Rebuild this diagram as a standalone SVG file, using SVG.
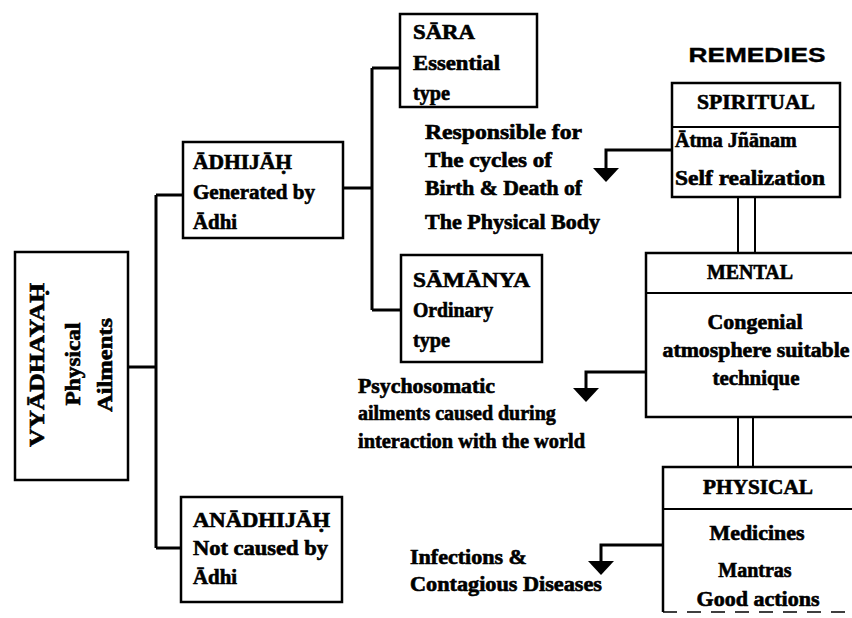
<svg xmlns="http://www.w3.org/2000/svg" width="852" height="618" viewBox="0 0 852 618">
<style>
.box{fill:#fff;stroke:#000;stroke-width:2.5}
.ln{fill:none;stroke:#000;stroke-width:3}
.dl{fill:none;stroke:#000;stroke-width:2}
.t{font-family:"Liberation Serif","Times New Roman",serif;font-weight:bold;font-size:20px;fill:#000;stroke:#000;stroke-width:0.6}
.c{text-anchor:middle}
.h{font-family:"Liberation Sans",Arial,sans-serif;font-weight:bold;font-size:21px;fill:#000;stroke:#000;stroke-width:0.4;text-anchor:middle}
</style>
<defs>
<polygon id="ah" points="-13,0 13,0 0,14" fill="#000"/>
</defs>
<rect width="852" height="618" fill="#fff"/>
<g id="connectors">
<path class="ln" d="M128,367 H156 M156,195 V548 M156,195 H183 M156,548 H181"/>
<path class="ln" d="M343,188 H372 M372,68 V310 M372,68 H400 M372,310 H401"/>
<path class="dl" d="M738,197 V253 M755,197 V253 M738,417 V467 M753,417 V467"/>
<path class="ln" d="M672,150 H606 V170"/>
<use href="#ah" x="606" y="168"/>
<path class="ln" d="M646,372 H586 V389"/>
<use href="#ah" x="586" y="388"/>
<path class="ln" d="M663,545 H601 V563"/>
<use href="#ah" x="601" y="561"/>
</g>
<g id="vyadhayah">
<rect class="box" x="15" y="252" width="113" height="228"/>
<text class="t c" transform="translate(44,365) rotate(-90)" textLength="164" lengthAdjust="spacingAndGlyphs">VYĀDHAYAḤ</text>
<text class="t c" transform="translate(80,364) rotate(-90)" textLength="83" lengthAdjust="spacingAndGlyphs">Physical</text>
<text class="t c" transform="translate(112,365) rotate(-90)" textLength="94" lengthAdjust="spacingAndGlyphs">Ailments</text>
</g>
<g id="adhijah">
<rect class="box" x="183" y="142" width="160" height="96"/>
<text class="t" x="193" y="169" textLength="99" lengthAdjust="spacingAndGlyphs">ĀDHIJĀḤ</text>
<text class="t" x="193" y="199" textLength="122" lengthAdjust="spacingAndGlyphs">Generated by</text>
<text class="t" x="193" y="229" textLength="44" lengthAdjust="spacingAndGlyphs">Ādhi</text>
</g>
<g id="anadhijah">
<rect class="box" x="181" y="497" width="161" height="105"/>
<text class="t" x="193" y="527" textLength="137" lengthAdjust="spacingAndGlyphs">ANĀDHIJĀḤ</text>
<text class="t" x="193" y="555" textLength="135" lengthAdjust="spacingAndGlyphs">Not caused by</text>
<text class="t" x="193" y="584" textLength="44" lengthAdjust="spacingAndGlyphs">Ādhi</text>
</g>
<g id="sara">
<rect class="box" x="400" y="14" width="137" height="93"/>
<text class="t" x="413" y="39" textLength="62" lengthAdjust="spacingAndGlyphs">SĀRA</text>
<text class="t" x="413" y="70" textLength="87" lengthAdjust="spacingAndGlyphs">Essential</text>
<text class="t" x="413" y="100" textLength="37" lengthAdjust="spacingAndGlyphs">type</text>
</g>
<g id="samanya">
<rect class="box" x="401" y="255" width="141" height="107"/>
<text class="t" x="413" y="287" textLength="117" lengthAdjust="spacingAndGlyphs">SĀMĀNYA</text>
<text class="t" x="413" y="317" textLength="80" lengthAdjust="spacingAndGlyphs">Ordinary</text>
<text class="t" x="413" y="347" textLength="37" lengthAdjust="spacingAndGlyphs">type</text>
</g>
<g id="sara-note">
<text class="t" x="425" y="139" textLength="157" lengthAdjust="spacingAndGlyphs">Responsible for</text>
<text class="t" x="425" y="167" textLength="127" lengthAdjust="spacingAndGlyphs">The cycles of</text>
<text class="t" x="425" y="195" textLength="157" lengthAdjust="spacingAndGlyphs">Birth &amp; Death of</text>
<text class="t" x="425" y="229" textLength="175" lengthAdjust="spacingAndGlyphs">The Physical Body</text>
</g>
<g id="psycho-note">
<text class="t" x="358" y="393" textLength="137" lengthAdjust="spacingAndGlyphs">Psychosomatic</text>
<text class="t" x="358" y="420">ailments caused during</text>
<text class="t" x="358" y="448" textLength="227" lengthAdjust="spacingAndGlyphs">interaction with the world</text>
</g>
<g id="infection-note">
<text class="t" x="410" y="564" textLength="117" lengthAdjust="spacingAndGlyphs">Infections &amp;</text>
<text class="t" x="410" y="591" textLength="192" lengthAdjust="spacingAndGlyphs">Contagious Diseases</text>
</g>
<text class="h" x="757" y="62" textLength="137" lengthAdjust="spacingAndGlyphs">REMEDIES</text>
<g id="spiritual">
<rect class="box" x="672" y="83" width="168" height="114"/>
<line class="dl" x1="672" y1="127" x2="840" y2="127"/>
<text class="t c" x="756" y="109" textLength="118" lengthAdjust="spacingAndGlyphs">SPIRITUAL</text>
<text class="t" x="675" y="147">Ātma Jñānam</text>
<text class="t" x="675" y="185" textLength="150" lengthAdjust="spacingAndGlyphs">Self realization</text>
</g>
<g id="mental">
<path class="box" d="M852,253 H646 V417 H852"/>
<line class="dl" x1="646" y1="293" x2="852" y2="293"/>
<text class="t c" x="750" y="279" textLength="86" lengthAdjust="spacingAndGlyphs">MENTAL</text>
<text class="t c" x="755" y="329" textLength="95" lengthAdjust="spacingAndGlyphs">Congenial</text>
<text class="t c" x="756" y="357" textLength="187" lengthAdjust="spacingAndGlyphs">atmosphere suitable</text>
<text class="t c" x="756" y="385" textLength="87" lengthAdjust="spacingAndGlyphs">technique</text>
</g>
<g id="physical">
<path class="box" d="M852,467 H663 V612"/>
<line class="dl" x1="663" y1="509" x2="852" y2="509"/>
<line x1="663" y1="612" x2="852" y2="612" stroke="#000" stroke-width="1.5" stroke-dasharray="14,10"/>
<text class="t c" x="758" y="494" textLength="110" lengthAdjust="spacingAndGlyphs">PHYSICAL</text>
<text class="t c" x="757" y="540" textLength="95" lengthAdjust="spacingAndGlyphs">Medicines</text>
<text class="t c" x="755" y="577">Mantras</text>
<text class="t c" x="758" y="606" textLength="123" lengthAdjust="spacingAndGlyphs">Good actions</text>
</g>
</svg>
